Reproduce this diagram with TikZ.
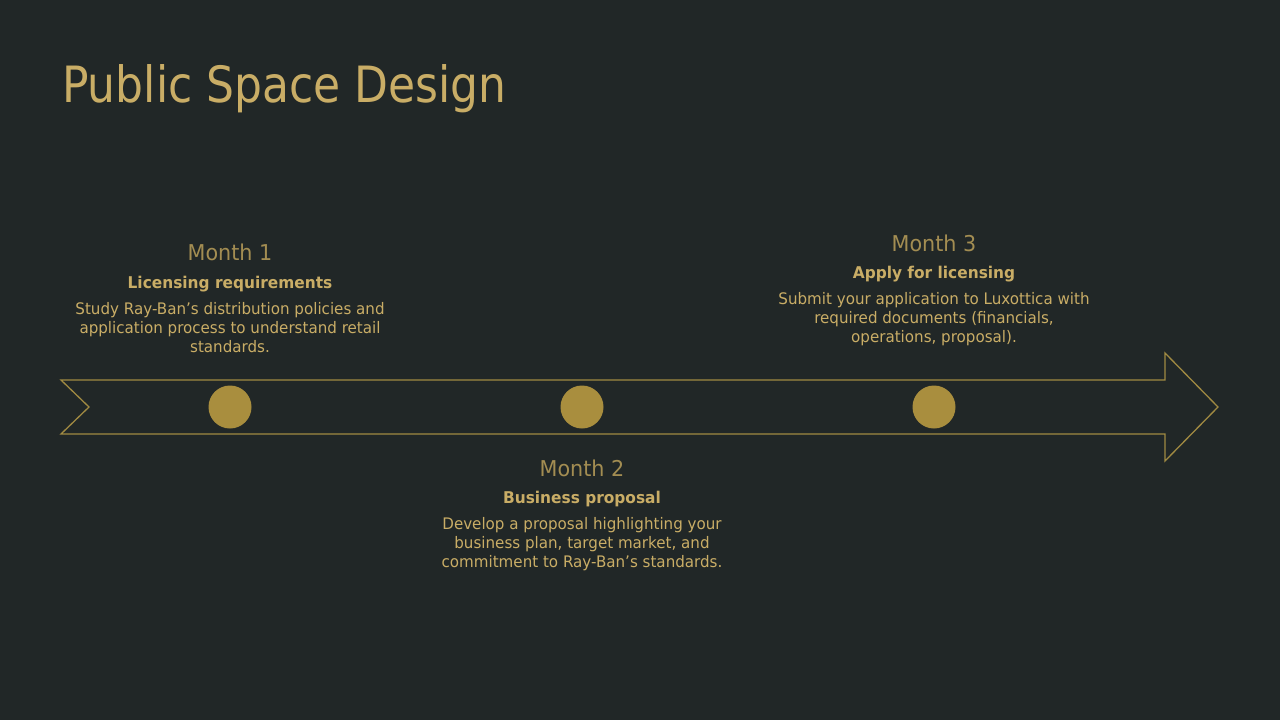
\documentclass[tikz,border=0pt]{standalone}
\usepackage{fontspec}
\setmainfont{DejaVu Sans}[FakeStretch=0.95]
\newfontfamily\titlefont{DejaVu Sans}[FakeStretch=0.88]
\definecolor{bg}{HTML}{212727}
\definecolor{gold}{HTML}{C9AD66}
\definecolor{goldm}{HTML}{A38D52}
\definecolor{goldline}{HTML}{A08A42}
\definecolor{goldc}{HTML}{A98E3E}
\begin{document}
\begin{tikzpicture}[x=1pt,y=-1pt,
  monthlbl/.style={text=goldm,font=\fontsize{21.8}{26}\selectfont,anchor=center,inner sep=0pt},
  headlbl/.style={text=gold,font=\bfseries\fontsize{16.2}{19}\selectfont,anchor=center,inner sep=0pt},
  bodylbl/.style={text=gold,font=\fontsize{15.9}{18.7}\selectfont,align=center,anchor=north,inner sep=0pt},
  dot/.style={circle,fill=goldc,minimum size=43pt,inner sep=0pt}]
\fill[bg] (0,0) rectangle (1280,720);
\useasboundingbox (0,0) rectangle (1280,720);
\node[anchor=base west,text=gold,inner sep=0pt,font=\titlefont\fontsize{50}{58}\selectfont] (title) at (62,102) {Public Space Design};
\draw[goldline,line width=1.3pt,line join=miter] (61,380) -- (1165,380) -- (1165,353) -- (1218,407) -- (1165,461) -- (1165,434) -- (61,434) -- (89,407) -- cycle;
\node[dot] (d1) at (230,407) {};
\node[dot] (d2) at (582,407) {};
\node[dot] (d3) at (934,407) {};
% Month 1
\node[monthlbl] (m1) at (230,252) {Month 1};
\node[headlbl] (h1) at (230,284) {Licensing requirements};
\node[bodylbl] (b1) at (230,302.5) {Study Ray-Ban’s distribution policies and\\application process to understand retail\\standards.};
% Month 2
\node[monthlbl] (m2) at (582,468) {Month 2};
\node[headlbl] (h2) at (582,499) {Business proposal};
\node[bodylbl] (b2) at (582,517.5) {Develop a proposal highlighting your\\business plan, target market, and\\commitment to Ray-Ban’s standards.};
% Month 3
\node[monthlbl] (m3) at (934,243) {Month 3};
\node[headlbl] (h3) at (934,274) {Apply for licensing};
\node[bodylbl] (b3) at (934,292.5) {Submit your application to Luxottica with\\required documents (financials,\\operations, proposal).};
\end{tikzpicture}
\end{document}
